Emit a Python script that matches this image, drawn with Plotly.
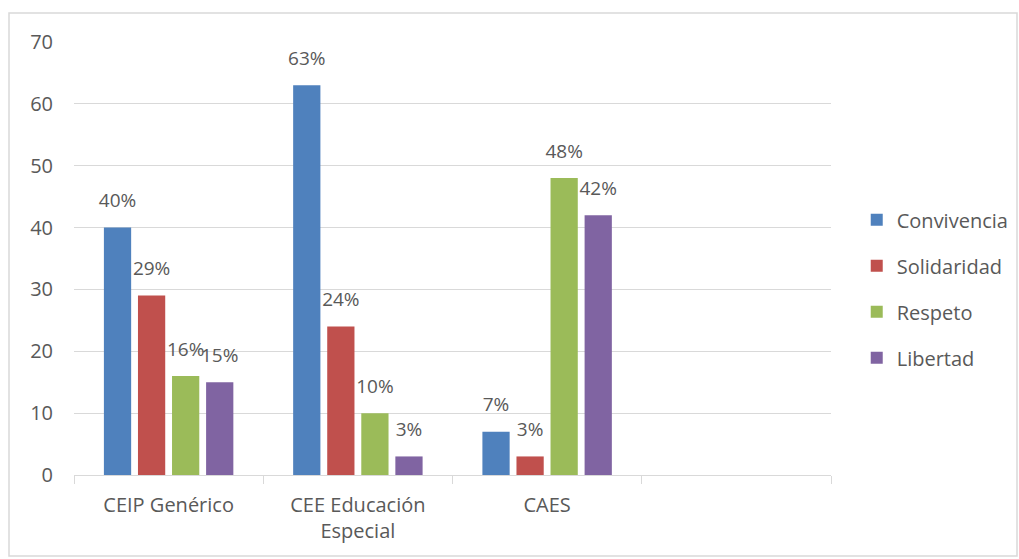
import plotly.graph_objects as go

categories = ["CEIP Genérico", "CEE Educación<br>Especial", "CAES", " "]
series_names = ["Convivencia", "Solidaridad", "Respeto", "Libertad"]
convivencia = [40, 63, 7]
solidaridad = [29, 24, 3]
respeto = [16, 10, 48]
libertad = [15, 3, 42]
values = [convivencia, solidaridad, respeto, libertad]
colors = ["#4F81BD", "#C0504D", "#9BBB59", "#8064A2"]
y_ticks = [0, 10, 20, 30, 40, 50, 60, 70]

FONT = "Open Sans, Liberation Sans, sans-serif"
TXT = "#595959"
FS = 20

fig = go.Figure()
for i, (name, vals) in enumerate(zip(series_names, values)):
    fig.add_trace(go.Bar(
        name=name,
        x=categories[:len(vals)],
        y=vals,
        marker=dict(color=colors[i], line=dict(width=0)),
        text=[f"{v}%" for v in vals],
        textposition="outside",
        constraintext="none",
        texttemplate="<span style='font-size:19px'>%{text}</span><br> ",
        textfont=dict(family=FONT, size=11, color=TXT),
        cliponaxis=False,
        legendgroup=name,
    ))

W, H = 1019, 559
L, R, T, B = 74, 188, 42, 84
pw, ph = W - L - R, H - T - B

fig.update_layout(
    width=W, height=H,
    margin=dict(l=L, r=R, t=T, b=B, autoexpand=False),
    paper_bgcolor="white", plot_bgcolor="white",
    barmode="group",
    bargap=0.28,
    bargroupgap=0.2,
    font=dict(family=FONT, size=FS, color=TXT),
    showlegend=True,
    legend=dict(x=1.034, y=0.43, xanchor="left", yanchor="middle",
                xref="paper", yref="paper",
                font=dict(family=FONT, size=FS, color=TXT),
                tracegroupgap=17, itemwidth=30),
    xaxis=dict(
        type="category",
        categoryorder="array", categoryarray=categories,
        range=[-0.5, 3.5],
        tickson="boundaries",
        ticks="outside", ticklen=8, tickcolor="#D9D9D9",
        showline=True, linecolor="#D9D9D9", linewidth=1,
        showgrid=False,
        automargin=False,
        ticklabelstandoff=12,
        tickfont=dict(family=FONT, size=FS, color=TXT),
    ),
    yaxis=dict(
        range=[0, 70],
        tickvals=y_ticks,
        showgrid=True, gridcolor="#D9D9D9", gridwidth=1,
        zeroline=False,
        showline=False,
        ticks="",
        automargin=False,
        ticklabelstandoff=20,
        tickfont=dict(family=FONT, size=FS, color=TXT),
    ),
    shapes=[dict(
        type="rect", xref="paper", yref="paper",
        x0=(9 - L) / pw, x1=(1017 - L) / pw,
        y0=(H - B - 556) / ph, y1=(H - B - 13) / ph,
        line=dict(color="#D9D9D9", width=1.5),
        fillcolor="rgba(0,0,0,0)", layer="below",
    )],
)

fig.write_html("out.html", config={"displayModeBar": False},
               post_script="document.body.style.margin='0';document.body.style.padding='0';")
